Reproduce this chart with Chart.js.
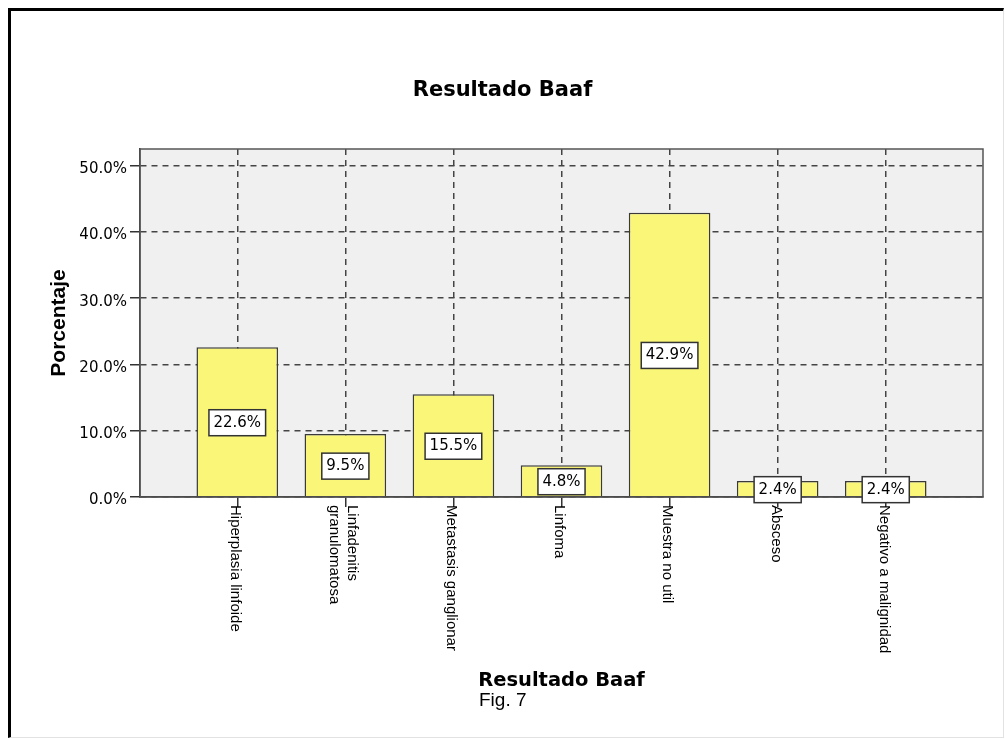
<!DOCTYPE html>
<html lang="es">
<head>
    <meta charset="UTF-8">
    <title>Resultado Baaf</title>
    <script src="https://cdn.jsdelivr.net/npm/chart.js"></script>
    <style>
        html, body { margin: 0; padding: 0; background: #fff; }
        #wrap { position: relative; width: 1005px; height: 739px; overflow: hidden; }
        #marco {
            position: absolute; left: 8px; top: 8px; width: 992px; height: 726px;
            border-left: 3px solid #000; border-top: 3px solid #000;
            border-right: 1px solid #e2e2e2; border-bottom: 1px solid #e2e2e2;
            pointer-events: none;
        }
        canvas { position: absolute; left: 0; top: 0; }
    </style>
</head>
<body>
    <div id="wrap">
        <canvas id="grafico" width="1005" height="739"></canvas>
        <div id="marco"></div>
    </div>

    <script>
        // Datos
        const categorias = [
            ['Hiperplasia linfoide'],
            ['Linfadenitis', 'granulomatosa'],
            ['Metastasis ganglionar'],
            ['Linfoma'],
            ['Muestra no util'],
            ['Absceso'],
            ['Negativo a malignidad']
        ];
        const porcentajes = [22.6, 9.5, 15.5, 4.8, 42.9, 2.4, 2.4];
        const ticksY = [0, 10, 20, 30, 40, 50];

        const amarillo = '#faf678';
        const lineaOscura = '#333';

        // Fondo gris del área del gráfico
        const fondo = {
            id: 'fondo',
            beforeDraw(chart) {
                const {ctx, chartArea: a} = chart;
                ctx.save();
                ctx.fillStyle = '#f0f0f0';
                ctx.fillRect(a.left, a.top, a.right - a.left, a.bottom - a.top);
                ctx.restore();
            }
        };

        // Borde superior/derecho y cajas con los porcentajes
        const etiquetas = {
            id: 'etiquetas',
            afterDatasetsDraw(chart) {
                const {ctx, chartArea: a} = chart;
                ctx.save();
                ctx.strokeStyle = '#555';
                ctx.lineWidth = 1.5;
                ctx.strokeRect(a.left, a.top, a.right - a.left, a.bottom - a.top);

                ctx.font = '15px "DejaVu Sans", sans-serif';
                ctx.textAlign = 'center';
                ctx.textBaseline = 'middle';
                chart.getDatasetMeta(0).data.forEach((bar, i) => {
                    const txt = porcentajes[i].toFixed(1) + '%';
                    const w = ctx.measureText(txt).width + 9;
                    const h = 26;
                    const cx = bar.x;
                    const cy = (bar.y + bar.base) / 2 + 1;
                    ctx.fillStyle = '#fff';
                    ctx.fillRect(cx - w / 2, cy - h / 2, w, h);
                    ctx.strokeStyle = lineaOscura;
                    ctx.strokeRect(cx - w / 2, cy - h / 2, w, h);
                    ctx.fillStyle = '#000';
                    ctx.fillText(txt, cx, cy);
                });
                ctx.restore();
            }
        };

        // Etiquetas del eje X giradas (se leen de arriba hacia abajo) y pie de figura
        const ejeX = {
            id: 'ejeX',
            afterDraw(chart) {
                const {ctx, chartArea: a} = chart;
                const sx = chart.scales.x;
                ctx.save();
                ctx.font = '15px "Liberation Sans", Arial, sans-serif';
                ctx.fillStyle = '#000';
                ctx.textAlign = 'left';
                ctx.textBaseline = 'middle';
                categorias.forEach((lineas, i) => {
                    const x = sx.getPixelForValue(i) - 2;
                    const n = lineas.length;
                    lineas.forEach((t, k) => {
                        ctx.save();
                        ctx.translate(x + ((n - 1) / 2 - k) * 18, a.bottom + 8);
                        ctx.rotate(Math.PI / 2);
                        ctx.fillText(t, 0, 0);
                        ctx.restore();
                    });
                });
                ctx.font = '19px "Liberation Sans", Arial, sans-serif';
                ctx.textBaseline = 'alphabetic';
                ctx.fillText('Fig. 7', 479, 706);
                ctx.restore();
            }
        };

        new Chart(document.getElementById('grafico'), {
            type: 'bar',
            data: {
                datasets: [{
                    data: porcentajes.map((v, i) => ({x: i, y: v})),
                    backgroundColor: amarillo,
                    borderColor: '#3a3a3a',
                    borderWidth: 1.5,
                    categoryPercentage: 1,
                    barPercentage: 0.755
                }]
            },
            options: {
                responsive: false,
                animation: false,
                events: [],
                layout: { padding: { left: 22, right: 22, top: 0, bottom: 0 } },
                plugins: {
                    legend: { display: false },
                    tooltip: { enabled: false },
                    title: {
                        display: true,
                        text: 'Resultado Baaf',
                        color: '#000',
                        font: { family: '"DejaVu Sans", sans-serif', size: 21, weight: 'bold' },
                        padding: { top: 78, bottom: 45.8 }
                    }
                },
                scales: {
                    x: {
                        type: 'linear',
                        min: -0.9,
                        max: 6.9,
                        offset: false,
                        afterFit: s => { s.height = 242; },
                        ticks: { display: false, stepSize: 1, includeBounds: false },
                        grid: {
                            offset: false,
                            color: '#444',
                            lineWidth: 1.5,
                            tickLength: 10,
                            tickColor: lineaOscura,
                            tickWidth: 1.5,
                            tickBorderDash: []
                        },
                        border: { display: true, color: lineaOscura, width: 1.5, dash: [6, 5] },
                        title: {
                            display: true,
                            text: 'Resultado Baaf',
                            color: '#000',
                            font: { family: '"DejaVu Sans", sans-serif', size: 19.5, weight: 'bold' },
                            padding: { top: 0, bottom: 46 }
                        }
                    },
                    y: {
                        min: 0,
                        max: 52.5,
                        afterFit: s => { s.width = 118; },
                        afterBuildTicks: s => { s.ticks = ticksY.map(v => ({value: v})); },
                        ticks: {
                            color: '#000',
                            padding: 3,
                            labelOffset: 3.5,
                            font: { family: '"DejaVu Sans", sans-serif', size: 15 },
                            callback: v => v.toFixed(1) + '%'
                        },
                        grid: {
                            color: '#444',
                            lineWidth: 1.5,
                            tickLength: 10,
                            tickColor: lineaOscura,
                            tickWidth: 1.5,
                            tickBorderDash: []
                        },
                        border: { display: true, color: lineaOscura, width: 1.5, dash: [6, 5] },
                        title: {
                            display: true,
                            text: 'Porcentaje',
                            color: '#000',
                            font: { family: '"Liberation Sans", Arial, sans-serif', size: 21, weight: 'bold' },
                            padding: { top: 24.6, bottom: 0 }
                        }
                    }
                }
            },
            plugins: [fondo, etiquetas, ejeX]
        });
    </script>
</body>
</html>
